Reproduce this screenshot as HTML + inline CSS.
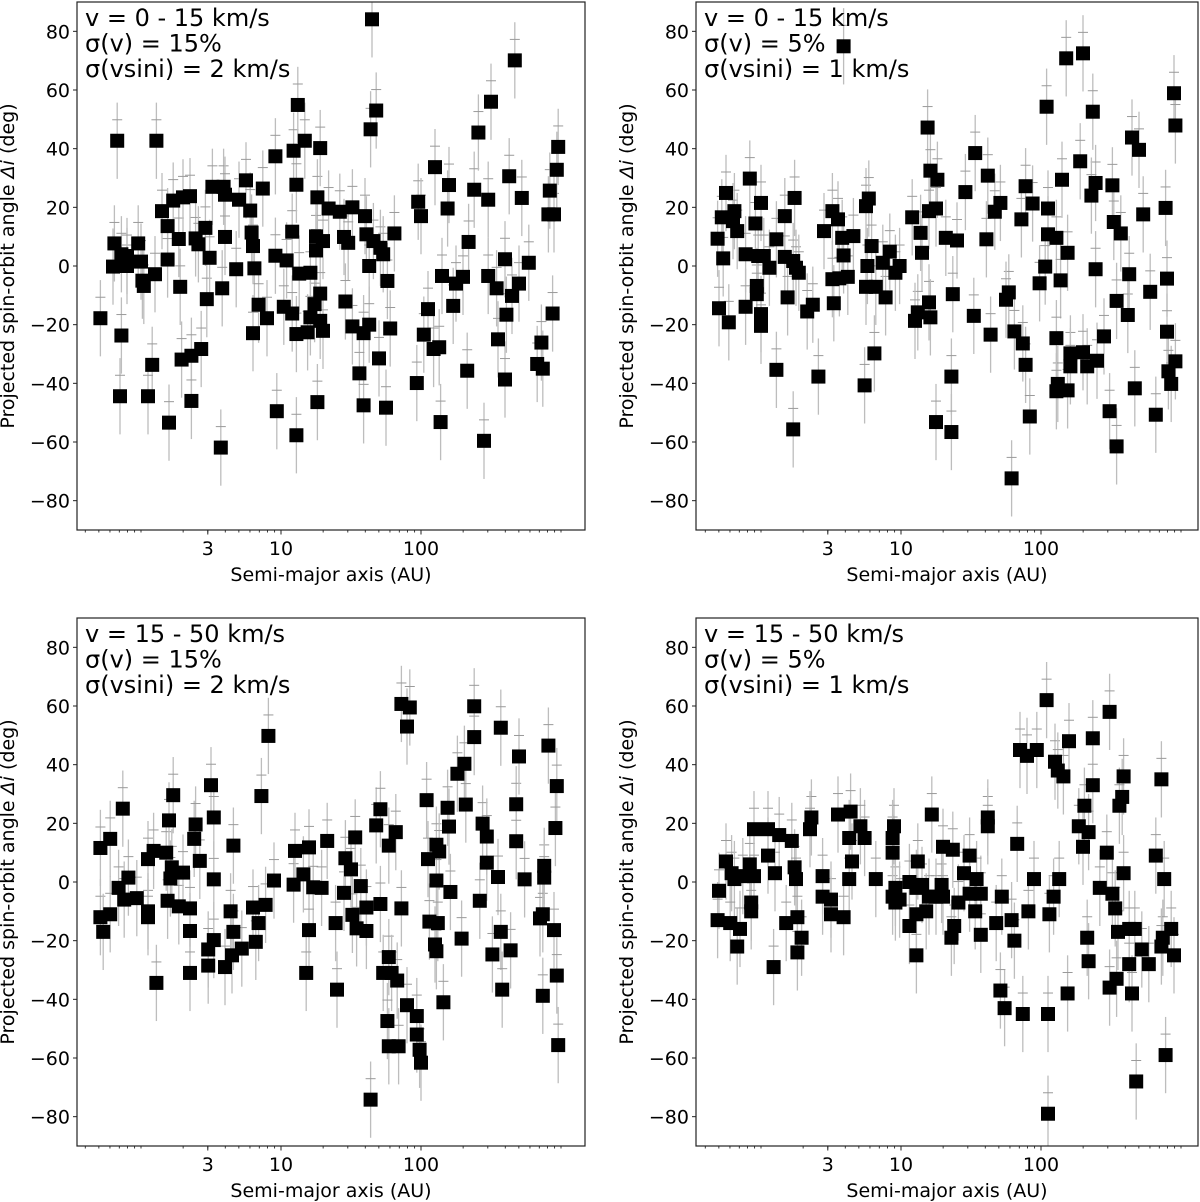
<!DOCTYPE html>
<html><head><meta charset="utf-8"><style>
body{margin:0;background:#fff}
svg{display:block;font-family:"DejaVu Sans","Liberation Sans",sans-serif}
</style></head><body>
<svg id="fig" width="1200" height="1202" viewBox="0 0 1200 1202" xmlns="http://www.w3.org/2000/svg"></svg>
<script>
// ---- Panel 1: v = 0-15, sigma(v)=15%, sigma(vsini)=2 ----
const p1LogA=[-0.29,-0.17,-0.19,-0.20,-0.14,-0.10,-0.10,-0.02,0.00,0.01,0.02,0.10,0.11,-0.14,-0.15,0.08,0.05,0.15,0.19,0.19,0.23,0.27,0.28,0.20,0.29,0.30,0.35,0.36,0.36,0.39,0.41,0.43,0.46,0.47,0.49,0.51,0.59,0.60,0.60,0.58,0.57,0.68,0.70,0.75,0.78,0.79,0.80,0.81,0.84,0.90,0.80,0.87,0.96,0.97,0.96,1.04,1.02,1.08,1.08,1.09,1.11,1.12,1.17,1.13,1.21,1.26,1.28,1.25,1.30,1.25,1.28,1.24,1.21,1.28,1.11,1.19,1.30,1.26,1.11,1.34,1.42,1.51,1.60,1.45,1.48,1.61,1.66,1.71,1.73,1.63,1.76,1.46,1.51,1.63,1.59,1.78,1.70,1.56,1.59,1.75,1.64,1.68,1.65,1.81,1.98,2.00,2.05,2.02,2.09,2.13,1.97,2.14,2.10,2.15,2.20,2.19,2.23,2.25,2.30,2.34,2.33,2.38,2.41,2.48,2.48,2.50,2.54,2.45,2.55,2.60,2.60,2.61,2.63,2.65,2.67,2.70,2.72,2.77,2.86,2.83,2.87,2.91,2.92,2.95,2.97,2.98,2.94];
const p1Angle=[-17.8,42.7,7.7,-0.2,4,0,3.4,7.7,1.5,-5,-6.8,-2.8,42.7,-23.7,-44.4,-33.7,-44.4,18.7,13.6,2.2,22.3,9.2,-7.1,-53.4,-31.9,23.4,23.8,-30.6,-46,9.4,7.4,-28.3,13,-11.3,2.8,27,27,24.3,9.9,-7.6,-61.9,-1.1,22.6,29.2,18.9,11.4,6.8,-0.8,-13.2,-17.8,-22.9,26.4,37.4,-49.5,3.5,1.9,-13.9,-16.2,11.7,39.3,27.7,54.9,42.7,-2.6,-2.3,23.4,40.2,10.1,8.5,5.3,-9.4,-13,-17.5,-18.7,-23.2,-22.6,-22.1,-46.4,-57.7,19.6,18.5,20,17,9.9,7.9,10.8,8.5,6.2,4,0,-5.1,-12.1,-20.6,-20,-22.9,-21.3,-31.5,-36.6,-47.5,-48.3,46.6,53,84.1,11.1,21.9,17,-14.7,-23.4,-28.3,-27.7,-39.9,-53.2,33.7,-3.4,27.6,19.6,-13.6,-6,-3.7,8.2,-35.7,26,45.5,22.6,-3.4,56,-7.6,-59.6,-25,2.3,-38.7,-16.6,30.6,-10.2,70.1,-6,23.2,1.1,-26.1,-33.4,-35,17.6,25.7,17.6,32.8,40.6,-16.2];
// ---- Panel 2: v = 0-15, sigma(v)=5%, sigma(vsini)=1 ----
const p2LogA=[-0.25,-0.28,-0.19,-0.20,-0.17,-0.31,-0.27,-0.08,0.00,-0.04,-0.11,-0.02,0.02,0.06,0.11,0.17,0.24,0.17,0.23,0.25,0.27,-0.03,-0.03,0.00,0.00,-0.11,-0.30,-0.23,0.19,0.11,0.23,0.33,0.37,0.41,0.45,0.51,0.55,0.58,0.66,0.59,0.59,0.51,0.56,0.62,0.52,0.75,0.77,0.79,0.76,0.75,0.82,0.89,0.92,0.87,0.99,0.96,0.81,0.74,1.08,1.14,1.15,1.19,1.21,1.26,1.20,1.25,1.20,1.12,1.10,1.21,1.32,1.40,1.37,1.36,1.25,1.36,1.46,1.53,1.62,1.61,1.67,1.71,1.52,1.64,1.77,1.75,1.81,1.87,1.89,1.92,1.79,1.86,1.89,1.94,2.05,2.04,2.05,2.11,2.19,2.03,1.99,2.14,2.11,2.12,2.11,2.19,2.21,2.30,2.21,2.33,2.40,2.15,2.18,2.30,2.28,2.37,2.39,2.36,2.39,2.45,2.51,2.52,2.57,2.49,2.54,2.54,2.62,2.63,2.65,2.70,2.73,2.67,2.78,2.89,2.90,2.90,2.82,2.95,2.96,2.93,2.96,2.91];
const p2Angle=[24.9,16.6,18.7,15.3,11.9,9.3,2.6,29.8,21.5,14.5,4,3.4,3.4,-0.6,9.1,17,23.2,3.1,1.7,-0.6,-2.3,-6.8,-9.6,-16.4,-20.4,-13.9,-14.4,-19.2,-10.7,-35.4,-55.7,-15.5,-13.2,-37.7,11.9,18.7,15.9,9.6,10.2,74.9,3.6,-4.5,-4.2,-3.7,-12.7,20.4,23,6.8,0,-7.1,-7.1,-10.7,4.9,1.1,0,-2.3,-29.8,-40.7,16.6,11.3,4.5,47.2,32.5,29.4,18.7,19.6,-12.4,-15.8,-18.7,-17.5,9.6,8.7,-9.6,-37.7,-53.2,-56.6,25.2,38.5,30.8,9.1,18.5,21.5,-17,-23.4,-9,-11.5,-22.3,-26.4,-33.7,-51.3,-72.4,15.9,27.2,21.3,19.6,54.3,10.8,9.6,4.5,-0.2,-5.9,-4.9,-24.6,-40.2,-42.7,-42.4,-29.8,-29.4,-34.2,-34.2,-32.3,29.4,70.8,72.5,35.7,52.6,28.3,24,-1.1,-24,27.5,15,11.1,-49.5,-61.5,-11.9,-16.7,-2.8,43.8,39.6,17.6,-41.7,-8.8,19.8,-4.3,-22.4,-50.7,58.9,47.9,-40.2,-32.5,-35.9];
// ---- Panel 3: v = 15-50, sigma(v)=15%, sigma(vsini)=2 ----
const p3LogA=[-0.29,-0.22,-0.29,-0.22,-0.27,-0.13,-0.16,-0.12,-0.09,-0.03,0.05,0.09,0.05,0.05,0.11,0.18,0.20,0.23,0.22,0.21,0.19,0.27,0.30,0.35,0.35,0.35,0.38,0.39,0.42,0.50,0.52,0.52,0.48,0.48,0.52,0.60,0.64,0.66,0.66,0.65,0.72,0.82,0.84,0.80,0.89,0.86,0.91,0.95,1.09,1.10,1.16,1.20,1.23,1.29,1.20,1.18,1.33,1.39,1.40,1.45,1.46,1.50,1.53,1.57,1.51,1.54,1.61,1.61,1.68,1.71,1.71,1.77,1.82,1.77,1.73,1.79,1.83,1.76,1.77,1.84,1.90,1.97,1.97,1.99,2.00,1.86,1.86,1.92,1.90,1.64,2.04,2.05,2.11,2.13,2.11,2.06,2.12,2.10,2.11,2.16,2.19,2.20,2.21,2.26,2.31,2.32,2.29,2.38,2.38,2.42,2.44,2.47,2.47,2.55,2.57,2.58,2.51,2.57,2.64,2.68,2.68,2.70,2.74,2.85,2.87,2.88,2.88,2.87,2.91,2.97,2.96,2.95,2.97,2.98];
const p3Angle=[11.6,14.7,-12,-11,-17,25,-2,-6,1.5,-5.5,7.8,10.6,-10,-12,-34.4,10,21,29.6,5,1.2,-6.4,-8.3,3.2,-9,-16.7,-31,14.7,19.6,7.2,33,22,0.9,-28.5,-23,-19.8,-29,-10,-17,12.4,-25,-22.7,-20.4,-14,-8.7,-7.8,29.3,49.8,0.5,-0.9,10.6,2.6,11.8,-1.8,-2,-16.4,-31,14,-14,-36.7,-3.7,8.1,4.3,15.2,-1.4,-11.2,-15.8,-8.7,-16.7,19.3,24.8,-7.5,12.4,17,-25.6,-31,-31,-33.6,-47.4,-56,-56,-42,-45.7,-52,-57.2,-61.6,-9,60.7,59.5,53,-74.2,27.9,7.8,12.7,10.4,0.5,-13.5,-14,-21.3,-23.6,-41,25.3,18.9,-3.4,36.9,40.3,26.4,-19.3,59.9,49.4,-6.4,19.9,15.5,6.6,1.7,-17,-36.7,-24.7,52.6,-23.3,26.5,13.9,42.8,0.9,-12.4,-11,5.5,1.5,-38.8,46.5,32.7,18.4,-16.4,-31.9,-55.6];
// ---- Panel 4: v = 15-50, sigma(v)=5%, sigma(vsini)=1 ----
const p4LogA=[2.04,2.49,1.85,1.90,1.97,2.20,2.37,2.10,2.12,2.16,2.37,2.59,2.86,2.58,2.56,2.31,2.27,2.34,2.30,2.47,2.82,2.59,2.88,2.42,2.51,2.53,2.55,2.67,2.63,2.72,2.63,2.77,2.95,2.93,2.87,2.86,2.33,2.34,2.19,2.54,2.49,2.65,2.89,2.68,2.05,1.71,1.74,1.87,2.05,1.95,2.13,2.09,2.06,1.91,1.83,1.72,1.68,1.79,1.81,1.62,1.62,1.57,1.53,1.57,1.49,1.45,1.54,1.49,1.41,1.38,1.36,1.29,1.30,1.37,1.30,1.22,1.12,1.06,1.11,0.96,0.94,0.99,0.96,1.15,1.20,1.25,1.11,1.18,1.06,1.11,0.95,0.94,0.94,0.82,0.74,0.71,0.63,0.64,0.55,0.65,0.63,0.44,0.44,0.50,0.50,0.59,0.36,0.35,0.22,0.13,0.05,0.05,0.10,0.24,0.25,0.18,0.26,0.29,0.26,0.09,-0.05,-0.08,-0.05,-0.07,-0.07,-0.25,-0.21,-0.19,-0.13,-0.30,-0.31,-0.22,-0.15,-0.17];
const p4Angle=[62,58,45,43,45,48,49,41,38,36,33,36,35,29,26,26,19,17,12,10,9,3,1,-2,-4,-9,-17,-16,-16,-23,-28,-28,-25,-16,-19,-22,-19,-27,-38,-33,-36,-38,-59,-68,-79,-37,-43,-45,-45,1,1,-5,-11,-10,13,-5,-14,-13,-20,22,19,-4,-10,-18,9,3,1,-4,-7,-15,-19,-1,12,11,-5,23,7,0,-2,-2,-5,-6,-7,-1,-5,-5,-11,-10,-15,-25,19,15,10,1,15,19,15,24,23,7,1,2,-5,-6,-11,-12,22,18,14,16,18,9,3,5,1,-14,-12,-19,-24,-29,18,6,2,-7,-10,7,3,1,2,-3,-13,-14,-16,-22];

const yTickVals=[-80,-60,-40,-20,0,20,40,60,80];
const xMajorVals=[3,10,100];
const xMajorLabels=["3","10","100"];
const annotations=[
 ["v = 0 - 15 km/s","σ(v) = 15%","σ(vsini) = 2 km/s"],
 ["v = 0 - 15 km/s","σ(v) = 5%","σ(vsini) = 1 km/s"],
 ["v = 15 - 50 km/s","σ(v) = 15%","σ(vsini) = 2 km/s"],
 ["v = 15 - 50 km/s","σ(v) = 5%","σ(vsini) = 1 km/s"]];

const NS="http://www.w3.org/2000/svg";
const svg=document.getElementById('fig');
function mk(tag,attrs,parent){const e=document.createElementNS(NS,tag);for(const k in attrs)e.setAttribute(k,attrs[k]);(parent||svg).appendChild(e);return e;}

const panels=[
 {x0:77,y0:2,w:508,h:528,x10:281,lx:p1LogA,ly:p1Angle},
 {x0:696,y0:2,w:502,h:528,x10:901,lx:p2LogA,ly:p2Angle},
 {x0:77,y0:618,w:508,h:528,x10:281,lx:p3LogA,ly:p3Angle},
 {x0:696,y0:618,w:502,h:528,x10:901,lx:p4LogA,ly:p4Angle}];
const DEC=140, ERR=13;

panels.forEach((p,pi)=>{
  const g=mk('g',{});
  
  
  const X=la=>p.x10+(la-1)*DEC;
  const Y=d=>p.y0+(90-d)/180*p.h;
  const clip=mk('clipPath',{id:'c'+pi},g);
  mk('rect',{x:p.x0,y:p.y0,width:p.w,height:p.h},clip);
  const plot=mk('g',{'clip-path':'url(#c'+pi+')'},g);
  
  
  for(let i=0;i<p.lx.length;i++){
    const x=X(p.lx[i]);
    const eb=mk('line',{x1:x,x2:x,y1:Y(p.ly[i]+ERR),y2:Y(p.ly[i]-ERR),stroke:'#bdbdbd','stroke-width':1.3},plot);
    
    
    mk('line',{x1:x-5,x2:x+5,y1:Y(p.ly[i]+ERR*0.55),y2:Y(p.ly[i]+ERR*0.55),stroke:'#999','stroke-width':1},plot);
  }
  for(let i=0;i<p.lx.length;i++){
    const x=X(p.lx[i]), y=Y(p.ly[i]);
    const r=mk('rect',{x:x-7,y:y-7,width:14,height:14,fill:'#000'},plot);
    
    
  }
  const frame=mk('rect',{x:p.x0,y:p.y0,width:p.w,height:p.h,fill:'none',stroke:'#222','stroke-width':1.2},g);
  
  
  yTickVals.forEach(v=>{
    const y=Y(v);
    mk('line',{x1:p.x0-4,x2:p.x0,y1:y,y2:y,stroke:'#222','stroke-width':1},g);
    const t=mk('text',{x:p.x0-7,y:y+7,'text-anchor':'end','font-size':19,fill:'#000'},g);
    t.textContent=(v<0?'\u2212'+(-v):''+v);
    
    
  });
  const lmin=1+(p.x0-p.x10)/DEC, lmax=1+(p.x0+p.w-p.x10)/DEC;
  for(let d=-1;d<=3;d++)for(let m=1;m<10;m++){
    const la=d+Math.log10(m); if(la<lmin||la>lmax)continue;
    const x=X(la);
    mk('line',{x1:x,x2:x,y1:p.y0+p.h,y2:p.y0+p.h+2.5,stroke:'#222','stroke-width':0.9},g);
  }
  xMajorVals.forEach((v,i)=>{
    const x=X(Math.log10(v));
    mk('line',{x1:x,x2:x,y1:p.y0+p.h,y2:p.y0+p.h+4.5,stroke:'#222','stroke-width':1},g);
    const t=mk('text',{x:x,y:p.y0+p.h+25,'text-anchor':'middle','font-size':19,fill:'#000'},g);
    t.textContent=xMajorLabels[i];
    
    
  });
  const xl=mk('text',{x:p.x0+p.w/2,y:p.y0+p.h+51,'text-anchor':'middle','font-size':19,fill:'#000'},g);
  xl.textContent='Semi-major axis (AU)';
  
  
  const yc=p.y0+p.h/2, yx=p.x0-63;
  const yl=mk('text',{x:yx,y:yc,'text-anchor':'middle','font-size':19,fill:'#000',transform:'rotate(-90 '+yx+' '+yc+')'},g);
  yl.innerHTML='Projected spin-orbit angle <tspan font-style="italic">Δi</tspan> (deg)';
  
  
  annotations[pi].forEach((s,k)=>{
    const t=mk('text',{x:p.x0+8,y:p.y0+24+k*25.5,'font-size':24,fill:'#000'},g);
    t.textContent=s;
    
    
  });
});
</script>
</body></html>
